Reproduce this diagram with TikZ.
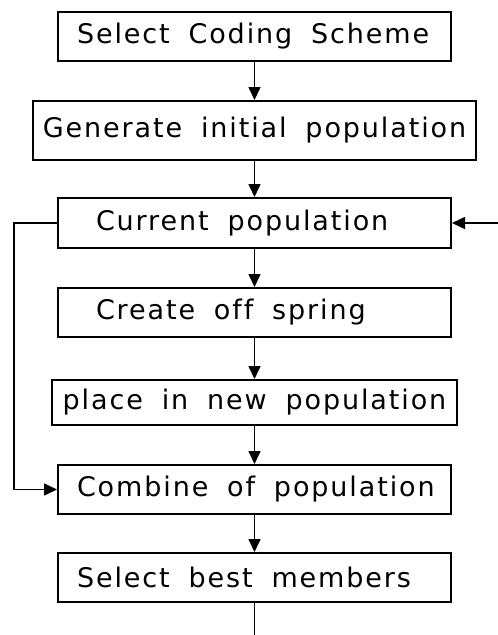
\documentclass[tikz,border=0pt]{standalone}
\usepackage{fontspec}
\setmainfont{DejaVu Sans}[LetterSpace=7,WordSpace=1.8,Ligatures=NoCommon]
\usetikzlibrary{arrows.meta,positioning}
\newcommand{\lft}[1]{\makebox[355pt][l]{#1}}

\begin{document}
\begin{tikzpicture}[x=1pt,y=1pt]%
\tikzstyle{box}=[rectangle,draw,line width=2pt,minimum height=49pt,font=\fontsize{27}{32}\selectfont]
\tikzstyle{stage}=[box,inner xsep=19pt]
\tikzstyle{widestage}=[box,inner xsep=0pt]
\tikzstyle{flow}=[line width=1.6pt,-{Triangle[length=13pt,width=12pt]}]
\useasboundingbox (0,0) rectangle (498,-635);
\node[stage] (sel) at (254.5,-36.5) {\lft{Select Coding Scheme}};
\node[widestage,minimum width=443pt,minimum height=59pt] (gen) [below=38pt of sel] {Generate initial population};
\node[stage,minimum height=50pt] (cur) [below=36pt of gen] {\lft{\hspace*{19pt}Current population}};
\node[stage] (off) [below=38pt of cur] {\lft{\hspace*{19pt}Create off spring}};
\node[widestage,minimum width=405pt,minimum height=45pt] (place) [below=41pt of off] {place in new population};
\node[stage] (comb) [below=38pt of place] {\lft{Combine of population}};
\node[stage] (best) [below=37pt of comb] {\lft{Select best members}};
\coordinate[right=47pt of cur] (back);
\coordinate[below=33pt of best] (next);
\draw[flow] (sel) -- (gen);
\draw[flow] (gen) -- (cur);
\draw[flow] (cur) -- (off);
\draw[flow] (off) -- (place);
\draw[flow] (place) -- (comb);
\draw[flow] (comb) -- (best);
\draw[line width=1.6pt] (best) -- (next);
\draw[flow] (back) -- (cur);
\draw[flow] (cur.west) -- ++(-43,0) |- (comb.west);
\end{tikzpicture}
\end{document}
